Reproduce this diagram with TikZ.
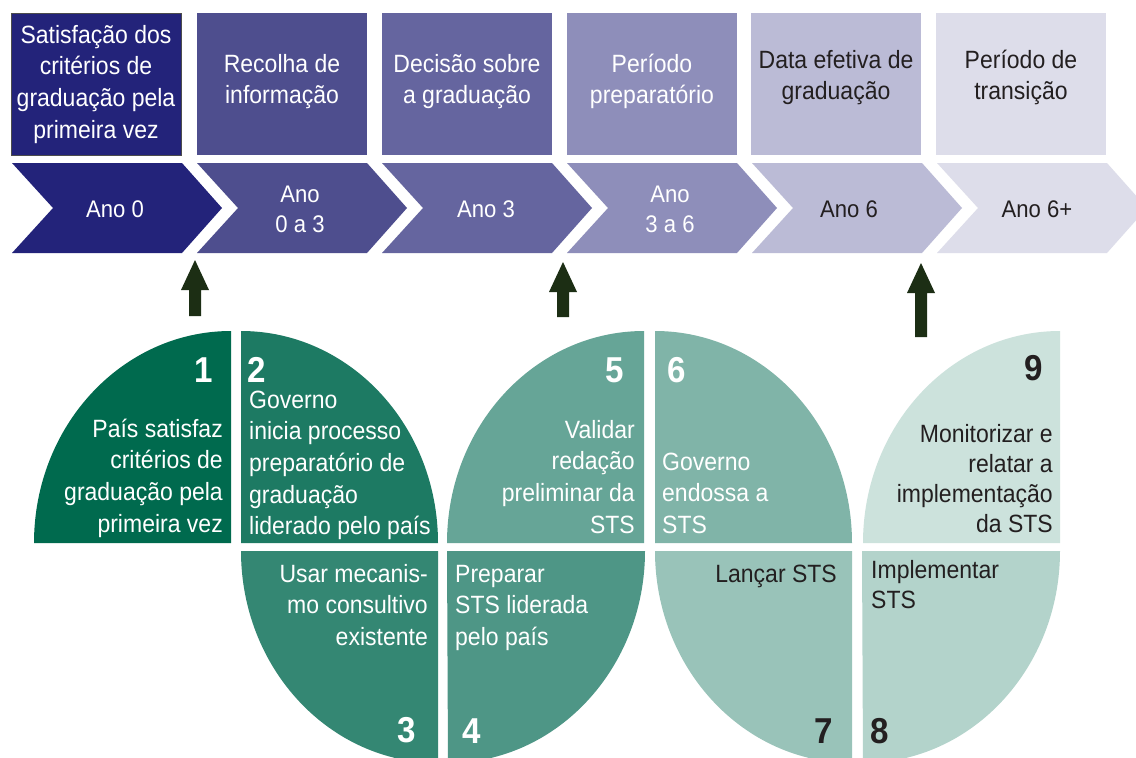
\documentclass[tikz,border=0pt]{standalone}
\usepackage{fontspec}
\setmainfont{Liberation Sans}[FakeStretch=0.92]
\definecolor{p1}{HTML}{23237A}
\definecolor{p2}{HTML}{4E4E8E}
\definecolor{p3}{HTML}{65659F}
\definecolor{p4}{HTML}{8E8EBA}
\definecolor{p5}{HTML}{BBBBD6}
\definecolor{p6}{HTML}{DDDDEA}
\definecolor{g1}{HTML}{006A4E}
\definecolor{g2}{HTML}{1D7A63}
\definecolor{g3}{HTML}{348773}
\definecolor{g4}{HTML}{4E9686}
\definecolor{g5}{HTML}{66A597}
\definecolor{g6}{HTML}{80B4A8}
\definecolor{g7}{HTML}{99C3B9}
\definecolor{g8}{HTML}{B3D3CB}
\definecolor{g9}{HTML}{CCE2DC}
\definecolor{arr}{HTML}{1C2E14}
\definecolor{dk}{HTML}{231F20}
\newcommand{\rblk}[1]{\begin{tabular}[t]{@{}r@{}}#1\end{tabular}}
\newcommand{\lblk}[1]{\begin{tabular}[t]{@{}l@{}}#1\end{tabular}}
\newcommand{\cblk}[1]{\begin{tabular}[t]{@{}c@{}}#1\end{tabular}}
\newcommand{\chevpath}[2]{\fill[#2] (#1,163) -- ++(170,0) -- ++(40,45) -- ++(-40,45) -- ++(-170,0) -- ++(41,-45) -- cycle;}
\newcommand{\uparr}[3]{\fill[arr] (#1,#2) -- ++(14,30) -- ++(-8,0) -- (#1+6,#3) -- (#1-6,#3) -- (#1-6,#2+30) -- ++(-8,0) -- cycle;}
\begin{document}
\begin{tikzpicture}[x=1pt,y=-1pt,
  topbox/.style={rectangle, minimum width=170pt, minimum height=142pt, inner sep=0pt},
  txt/.style={inner sep=0pt, text=white, font=\fontsize{25}{31.7}\selectfont},
  txtd/.style={txt, text=dk, font=\fontsize{25}{30.2}\selectfont},
  ctxt/.style={inner sep=0pt, text=white, font=\fontsize{24}{30}\selectfont},
  num/.style={inner sep=0pt, text=white, font=\fontsize{36}{40}\selectfont\bfseries},
  quad/.style={x radius=197, y radius=212},
]
\useasboundingbox (0,0) rectangle (1136,758);
\fill[white] (0,0) rectangle (1136,758);

% top boxes
\node[topbox, fill=p1, draw=black!70, line width=1pt] (b1) at (96,84) {};
\node[topbox, fill=p2] (b2) at (282,84) {};
\node[topbox, fill=p3] (b3) at (467,84) {};
\node[topbox, fill=p4] (b4) at (652,84) {};
\node[topbox, fill=p5] (b5) at (836,84) {};
\node[topbox, fill=p6] (b6) at (1021,84) {};

\node[txt, anchor=base] (bt1) at (96,43) {\cblk{Satisfação dos\\critérios de\\graduação pela\\primeira vez}};
\node[txt, anchor=base] (bt2) at (282,72) {\cblk{Recolha de\\informação}};
\node[txt, anchor=base] (bt3) at (467,72) {\cblk{Decisão sobre\\a graduação}};
\node[txt, anchor=base] (bt4) at (652,72) {\cblk{Período\\preparatório}};
\node[txt, text=dk, anchor=base] (bt5) at (836,68) {\cblk{Data efetiva de\\graduação}};
\node[txt, text=dk, anchor=base] (bt6) at (1021,68) {\cblk{Período de\\transição}};

% chevrons
\chevpath{12}{p1}
\chevpath{197}{p2}
\chevpath{382}{p3}
\chevpath{567}{p4}
\chevpath{752}{p5}
\chevpath{937}{p6}
\node[ctxt, anchor=base] (c1) at (115,217) {Ano 0};
\node[ctxt, anchor=base] (c2) at (300,202) {\cblk{Ano\\0 a 3}};
\node[ctxt, anchor=base] (c3) at (486,217) {Ano 3};
\node[ctxt, anchor=base] (c4) at (670,202) {\cblk{Ano\\3 a 6}};
\node[ctxt, text=dk, anchor=base] (c5) at (849,217) {Ano 6};
\node[ctxt, text=dk, anchor=base] (c6) at (1037,217) {Ano 6+};

% arrows
\uparr{195}{260}{316}
\uparr{563}{262}{317}
\uparr{921}{263}{337}

% group A
\fill[g1] (231,543) -- (34,543) arc[start angle=180, end angle=270, quad] -- cycle;
\fill[g2] (241,543) -- (241,331) arc[start angle=270, end angle=360, quad] -- cycle;
\fill[g3] (438,551) -- (241,551) arc[start angle=180, end angle=90, quad] -- cycle;
% group B
\fill[g5] (644,543) -- (447,543) arc[start angle=180, end angle=270, quad] -- cycle;
\fill[g6] (655,543) -- (655,331) arc[start angle=270, end angle=360, quad] -- cycle;
\fill[g4] (447,551) -- (645,551) arc[start angle=0, end angle=90, quad] -- cycle;
\fill[g7] (852,551) -- (655,551) arc[start angle=180, end angle=90, quad] -- cycle;
% group C
\fill[g9] (1060,543) -- (863,543) arc[start angle=180, end angle=270, quad] -- cycle;
\fill[g8] (862,551) -- (1060,551) arc[start angle=0, end angle=90, quad] -- cycle;

% quadrant texts
\node[txt, anchor=base east] (q1) at (223,437) {\rblk{País satisfaz\\critérios de\\graduação pela\\primeira vez}};
\node[txt, anchor=base west] (q2) at (249,408) {\lblk{Governo\\inicia processo\\preparatório de\\graduação\\liderado pelo país}};
\node[txt, anchor=base east] (q3) at (428,582) {\rblk{Usar mecanis-\\mo consultivo\\existente}};
\node[txt, anchor=base west] (q4) at (455,582) {\lblk{Preparar\\STS liderada\\pelo país}};
\node[txt, anchor=base east] (q5) at (635,438) {\rblk{Validar\\redação\\preliminar da\\STS}};
\node[txt, anchor=base west] (q6) at (662,470) {\lblk{Governo\\endossa a\\STS}};
\node[txtd, anchor=base east] (q7) at (837,582) {Lançar STS};
\node[txtd, anchor=base west] (q8) at (871,578) {\lblk{Implementar\\STS}};
\node[txtd, anchor=base east] (q9) at (1053,442) {\rblk{Monitorizar e\\relatar a\\implementação\\da STS}};

% numbers
\node[num, anchor=base east] (n1) at (213,382) {1};
\node[num, anchor=base west] (n2) at (247,382) {2};
\node[num, anchor=base east] (n3) at (416,742) {3};
\node[num, anchor=base west] (n4) at (462,743) {4};
\node[num, anchor=base east] (n5) at (624,382) {5};
\node[num, anchor=base west] (n6) at (667,382) {6};
\node[num, text=dk, anchor=base east] (n7) at (833,743) {7};
\node[num, text=dk, anchor=base west] (n8) at (870,743) {8};
\node[num, text=dk, anchor=base east] (n9) at (1043,380) {9};
\end{tikzpicture}
\end{document}
